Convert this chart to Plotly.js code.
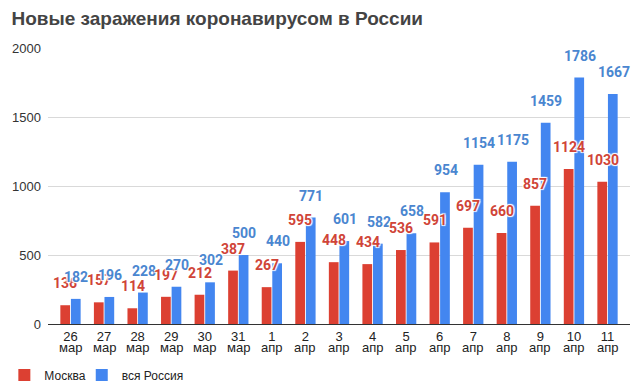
<!DOCTYPE html>
<html><head><meta charset="utf-8">
<script src="https://cdn.plot.ly/plotly-3.0.1.min.js"></script>
<style>body{margin:0;background:#fff}#c{width:639px;height:391px}</style>
</head><body><div id="c"></div>
<script>
const dayNums = ["26","27","28","29","30","31","1","2","3","4","5","6","7","8","9","10","11"];
const months = ["мар","мар","мар","мар","мар","мар","апр","апр","апр","апр","апр","апр","апр","апр","апр","апр","апр"];
const moscow = [136,157,114,197,212,387,267,595,448,434,536,591,697,660,857,1124,1030];
const russia = [182,196,228,270,302,500,440,771,601,582,658,954,1154,1175,1459,1786,1667];
const yTicks = [0,500,1000,1500,2000];
const RED = "#dc4032", BLUE = "#4386f0";
const halo = "1px 1px 1px #fff, -1px -1px 1px #fff, 1px -1px 1px #fff, -1px 1px 1px #fff";
const idx = dayNums.map((d,i)=>i);

const ann = [];
idx.forEach(i=>{
  ann.push({x:i, y:moscow[i], xref:'x', yref:'y', text:String(moscow[i]), showarrow:false, yshift:22, xshift:-5,
    font:{family:'Roboto, Arial', size:14, color:'#d04438', weight:'bold', shadow:halo}});
  ann.push({x:i, y:russia[i], xref:'x', yref:'y', text:String(russia[i]), showarrow:false, yshift:22, xshift:6,
    font:{family:'Roboto, Arial', size:14, color:'#4a86d0', weight:'bold', shadow:halo}});
  ann.push({x:i, y:0, xref:'x', yref:'y', text:months[i], showarrow:false, yanchor:'middle', yshift:-23,
    font:{family:'"Liberation Sans", Arial', size:13, color:'#222'}});
});

const data = [
  {type:'bar', name:'Москва', x:idx, y:moscow, marker:{color:RED}, hoverinfo:'none', legend:'legend'},
  {type:'bar', name:'вся Россия', x:idx, y:russia, marker:{color:BLUE}, hoverinfo:'none', legend:'legend2'}
];
const legBase = {orientation:'h', xanchor:'left', y:-0.185, yanchor:'middle', font:{size:12, color:'#222'}, itemwidth:30, bgcolor:'rgba(0,0,0,0)'};
const layout = {
  width:639, height:391,
  margin:{l:48, r:9, t:48, b:67, autoexpand:false},
  paper_bgcolor:'#fff', plot_bgcolor:'#fff',
  font:{family:'"Liberation Sans", Arial, sans-serif', color:'#222', size:12},
  title:{text:'Новые заражения коронавирусом в России', x:0.018, xanchor:'left', y:0.952, yanchor:'middle',
    font:{family:'"Liberation Sans", Arial', size:19, color:'#444', weight:'bold'}},
  barmode:'group', bargap:0.37, bargroupgap:0.08,
  xaxis:{tickmode:'array', tickvals:idx, ticktext:dayNums, range:[-0.67,16.67],
    showgrid:false, showline:true, linecolor:'#333', linewidth:1, ticks:'', tickfont:{size:13, color:'#222'}, fixedrange:true},
  yaxis:{range:[0,2000], tickvals:yTicks, ticktext:yTicks.map(String), gridcolor:'#d9d9d9', zeroline:true, zerolinecolor:'#333',
    ticks:'', tickfont:{size:13, color:'#333'}, ticklabelstandoff:6, fixedrange:true},
  showlegend:true,
  legend:Object.assign({x:-0.075}, legBase),
  legend2:Object.assign({x:0.058}, legBase),
  annotations:ann
};
Plotly.newPlot('c', data, layout, {displayModeBar:false, staticPlot:true});
</script></body></html>
